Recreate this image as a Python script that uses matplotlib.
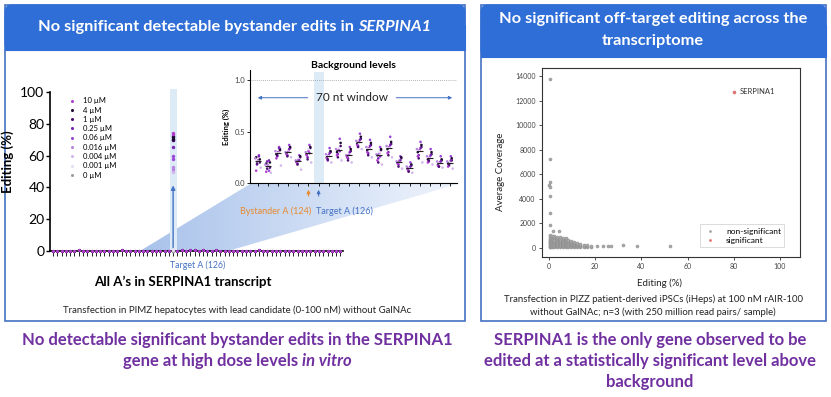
import numpy as np
import matplotlib
matplotlib.use("Agg")
import matplotlib.pyplot as plt
from matplotlib.patches import Rectangle, FancyBboxPatch, Polygon
from matplotlib.lines import Line2D

plt.rcParams['font.family'] = ['Lato', 'DejaVu Sans']

# ---------------- data ----------------
doses = ['10 µM', '4 µM', '1 µM', '0.25 µM', '0.06 µM', '0.016 µM', '0.004 µM', '0.001 µM', '0 µM']
dose_colors = ['#B23FD0', '#1E0A2E', '#4A0E6E', '#7B22B5', '#9B45D6',
               '#B784DE', '#D2B6EC', '#E6DCF3', '#9C9C9C']

# all A positions in the SERPINA1 transcript (main panel)
a_index = list(range(1, 69))
main_bg = [0.21, 0.18, 0.30, 0.27, 0.22, 0.25, 0.33, 0.19, 0.24, 0.28, 0.20, 0.31,
           0.26, 0.23, 0.17, 0.29, 0.35, 0.22, 0.24, 0.30, 0.27, 0.22, 0.17, 0.29,
           0.30, 0.23, 0.30, 0.24, 0.00, 0.27, 0.32, 0.27, 0.40, 0.34, 0.29, 0.35,
           0.22, 0.15, 0.32, 0.25, 0.20, 0.20, 0.26, 0.31, 0.19, 0.23, 0.28, 0.21,
           0.33, 0.25, 0.18, 0.27, 0.22, 0.30, 0.24, 0.19, 0.26, 0.29, 0.21, 0.23,
           0.31, 0.18, 0.25, 0.28, 0.22, 0.20, 0.27, 0.24]
target_pos = 29
target_vals = [[74.5, 73.5], [71.5, 70.5], [70.0, 72.5], [65.5, 69.5], [59.5, 58.0],
               [53.0, 51.5], [50.5, 49.5], [1.0, 0.8], [0.3, 0.2]]

# background levels inset (70 nt window)
inset_pos = [1, 2, 3, 4, 5, 6, 8, 9, 10, 11, 12, 13, 14, 15, 16, 17, 18, 19, 20]
inset_vals = [
    [0.22, 0.25, 0.20, 0.18, 0.27, 0.24, 0.15, 0.21, 0.12, 0.23, 0.19, 0.26],
    [0.17, 0.19, 0.15, 0.21, 0.12, 0.18, 0.10, 0.16, 0.11, 0.20, 0.14, 0.22],
    [0.30, 0.28, 0.33, 0.26, 0.35, 0.31, 0.17, 0.29, 0.24, 0.32, 0.27, 0.34],
    [0.31, 0.29, 0.34, 0.27, 0.37, 0.30, 0.25, 0.32, 0.28, 0.35, 0.26, 0.33],
    [0.23, 0.21, 0.25, 0.19, 0.27, 0.22, 0.13, 0.24, 0.20, 0.26, 0.18, 0.22],
    [0.31, 0.28, 0.34, 0.25, 0.37, 0.30, 0.20, 0.33, 0.27, 0.35, 0.23, 0.29],
    [0.27, 0.25, 0.30, 0.22, 0.34, 0.28, 0.20, 0.26, 0.24, 0.31, 0.23, 0.29],
    [0.32, 0.30, 0.36, 0.28, 0.43, 0.33, 0.22, 0.34, 0.27, 0.39, 0.25, 0.31],
    [0.28, 0.26, 0.31, 0.24, 0.35, 0.27, 0.20, 0.29, 0.25, 0.33, 0.22, 0.30],
    [0.40, 0.38, 0.43, 0.36, 0.48, 0.41, 0.33, 0.39, 0.37, 0.45, 0.35, 0.42],
    [0.34, 0.32, 0.37, 0.29, 0.42, 0.35, 0.25, 0.33, 0.30, 0.39, 0.27, 0.36],
    [0.29, 0.27, 0.32, 0.24, 0.35, 0.28, 0.18, 0.30, 0.22, 0.33, 0.20, 0.26],
    [0.35, 0.33, 0.38, 0.30, 0.45, 0.36, 0.25, 0.34, 0.29, 0.40, 0.27, 0.37],
    [0.22, 0.20, 0.24, 0.18, 0.26, 0.21, 0.14, 0.23, 0.19, 0.25, 0.16, 0.22],
    [0.15, 0.14, 0.17, 0.12, 0.20, 0.16, 0.10, 0.15, 0.13, 0.18, 0.11, 0.16],
    [0.32, 0.30, 0.35, 0.27, 0.40, 0.33, 0.20, 0.31, 0.26, 0.37, 0.24, 0.34],
    [0.25, 0.23, 0.28, 0.21, 0.33, 0.26, 0.18, 0.24, 0.20, 0.30, 0.22, 0.27],
    [0.20, 0.18, 0.22, 0.16, 0.26, 0.21, 0.15, 0.19, 0.17, 0.23, 0.16, 0.21],
    [0.20, 0.19, 0.22, 0.17, 0.26, 0.21, 0.14, 0.20, 0.16, 0.24, 0.18, 0.22],
]
bystander_pos = 6
inset_target_pos = 7

# transcriptome-wide off-target scatter
ot_row_edit = [0.3, 1.2, 2.4, 3.6, 4.8, 6.0, 7.2, 8.4, 9.6, 10.8, 12.0, 13.5, 15.0, 16.5, 18.0]
ot_row_cov = [
    [60, 120, 180, 240, 310, 380, 450, 520, 600, 680, 760, 850, 940, 1030],
    [80, 150, 230, 300, 380, 460, 540, 620, 700, 790, 880, 980],
    [70, 140, 210, 290, 370, 450, 530, 610, 690, 780, 870, 960],
    [90, 160, 240, 320, 400, 480, 560, 640, 720, 810, 900],
    [60, 130, 210, 290, 370, 450, 530, 610, 690, 770, 860],
    [80, 150, 230, 310, 390, 470, 550, 630, 710, 800],
    [70, 140, 220, 300, 380, 460, 540, 620, 700, 780],
    [90, 160, 240, 320, 400, 480, 560, 650],
    [60, 130, 210, 290, 370, 450, 530],
    [80, 150, 230, 310, 390, 460],
    [70, 140, 220, 300, 370],
    [90, 160, 230, 300],
    [80, 150, 220],
    [90, 160, 230],
    [100, 170],
]
ot_out_edit = [0.4, 0.3, 0.3, 0.2, 0.4, 0.3, 0.3, 0.4, 1.6, 4.5, 21.0, 23.4, 25.5, 27.0, 32.0, 38.0, 52.4]
ot_out_cov = [13750, 7240, 5350, 5130, 5000, 4230, 2820, 1870, 1380, 1360, 150, 160, 180, 200, 230, 150, 150]
sig_edit = [80.0]
sig_cov = [12700]
sig_name = 'SERPINA1'

# ---------------- layout helpers ----------------
W, H = 831, 397
fig = plt.figure(figsize=(W / 100, H / 100), dpi=100)


def ax_px(x0, y0, x1, y1, **kw):
    return fig.add_axes([x0 / W, 1 - y1 / H, (x1 - x0) / W, (y1 - y0) / H], **kw)


bg = fig.add_axes([0, 0, 1, 1], zorder=0)
bg.set_xlim(0, W)
bg.set_ylim(H, 0)
bg.axis('off')

HEAD = '#2F6ED6'
BORDER = '#4472C4'
PURPLE = '#7030A0'
BLUE_TXT = '#4472C4'
ORANGE = '#E88A2E'

# panel boxes
for (x0, x1, hb) in [(5, 465, 50), (481, 826, 57)]:
    bg.add_patch(Rectangle((x0, 5), x1 - x0, 316, fill=False, ec=BORDER, lw=1.2, zorder=1))
    bg.add_patch(FancyBboxPatch((x0, 5), x1 - x0, hb - 5,
                                boxstyle='round,pad=0,rounding_size=7',
                                fc=HEAD, ec=HEAD, lw=0.8, zorder=2))
    bg.add_patch(Rectangle((x0, 25), x1 - x0, hb - 25, fc=HEAD, ec=HEAD, lw=0.8, zorder=2))

renderer = fig.canvas.get_renderer()


def mixed_line(ax, xc, y, parts, **kw):
    texts = []
    for s, st in parts:
        texts.append(ax.text(0, y, s, style=st, ha='left', va='center', **kw))
    t1 = ax.text(0, 0, 'a a', **kw)
    t2 = ax.text(0, 0, 'aa', **kw)
    sp = t1.get_window_extent(renderer).width - t2.get_window_extent(renderer).width
    t1.remove()
    t2.remove()
    widths = [t.get_window_extent(renderer).width for t in texts]
    total = sum(widths) + sp * (len(texts) - 1)
    x = xc - total / 2
    for t, w in zip(texts, widths):
        t.set_x(x)
        x += w + sp


# header titles
mixed_line(bg, 235, 27, [('No significant detectable bystander edits in', 'normal'),
                         ('SERPINA1', 'italic')],
           color='white', fontsize=11.8, fontweight='bold', zorder=3)
bg.text(653, 19, 'No significant off-target editing across the', color='white',
        fontsize=11.8, fontweight='bold', ha='center', va='center', zorder=3)
bg.text(653, 41, 'transcriptome', color='white', fontsize=11.8, fontweight='bold',
        ha='center', va='center', zorder=3)

# captions
bg.text(237, 310, 'Transfection in PIMZ hepatocytes with lead candidate (0-100 nM) without GalNAc',
        fontsize=6.9, ha='center', va='center', color='#222')
bg.text(653, 299, 'Transfection in PIZZ patient-derived iPSCs (iHeps) at 100 nM rAIR-100',
        fontsize=6.9, ha='center', va='center', color='#222')
bg.text(653, 312, 'without GalNAc; n=3 (with 250 million read pairs/ sample)',
        fontsize=6.9, ha='center', va='center', color='#222')

# bottom purple conclusions
FS_P = 12
bg.text(237, 340, 'No detectable significant bystander edits in the SERPINA1',
        fontsize=FS_P, fontweight='bold', color=PURPLE, ha='center', va='center')
mixed_line(bg, 237, 361, [('gene at high dose levels', 'normal'), ('in vitro', 'italic')],
           fontsize=FS_P, fontweight='bold', color=PURPLE)
for yy, s in [(340, 'SERPINA1 is the only gene observed to be'),
              (361, 'edited at a statistically significant level above'),
              (382, 'background')]:
    bg.text(650, yy, s, fontsize=FS_P, fontweight='bold', color=PURPLE, ha='center', va='center')

# zoom shading (gradient wedge from the main axis to the inset)
poly = Polygon([(140, 251), (250, 184), (458, 184), (228, 251)], closed=True,
               fc='none', ec='none')
bg.add_patch(poly)
c0 = np.array([0.66, 0.76, 0.92])
c1 = np.array([0.94, 0.96, 0.99])
t = np.linspace(0, 1, 200)[None, :, None]
grad = np.repeat(c0 + (c1 - c0) * t, 2, axis=0)
im = bg.imshow(grad, extent=(140, 458, 251, 184), aspect='auto', zorder=1.5,
               interpolation='bilinear')
im.set_clip_path(poly)
bg.set_xlim(0, W)
bg.set_ylim(H, 0)

# ---------------- main panel ----------------
ax = ax_px(50, 92, 343, 251, zorder=1)
ax.patch.set_alpha(0)
ax.set_xlim(0.3, 68.6)
ax.set_ylim(0, 100)
for sp in ['top', 'right']:
    ax.spines[sp].set_visible(False)
ax.spines['left'].set_linewidth(1.2)
ax.spines['bottom'].set_linewidth(1.2)
ax.set_yticks([0, 20, 40, 60, 80, 100])
ax.tick_params(axis='y', labelsize=10, length=3, width=1, pad=1)
ax.set_xticks(a_index)
ax.set_xticklabels([])
ax.tick_params(axis='x', length=3.5, width=0.7, color='#222')

ax.axvspan(target_pos - 0.8, target_pos + 0.8, ymin=0, ymax=1.02, color='#DDEBF7',
           zorder=0, clip_on=False, lw=0)
ax.annotate('', xy=(target_pos, 43), xytext=(target_pos, -3),
            arrowprops=dict(arrowstyle='-|>', color=BLUE_TXT, lw=1, mutation_scale=6),
            annotation_clip=False, zorder=2)

bg_x = [p for p in a_index if p != target_pos]
bg_y = [v for p, v in zip(a_index, main_bg) if p != target_pos]
for i in reversed(range(len(doses))):
    ax.scatter(bg_x, bg_y, s=5, color=dose_colors[i], lw=0, clip_on=False, zorder=3)
handles = []
for i in reversed(range(len(doses))):
    ax.scatter([target_pos] * len(target_vals[i]), target_vals[i], s=6,
               color=dose_colors[i], lw=0, clip_on=False, zorder=4)
for i in range(len(doses)):
    handles.append(Line2D([], [], ls='none', marker='o', ms=2.2, mfc=dose_colors[i],
                          mec='none', label=doses[i]))
ax.legend(handles=handles, loc='upper left', bbox_to_anchor=(0.0375, 1.01),
          frameon=False, fontsize=5.5, handlelength=1, handletextpad=1.0,
          labelspacing=0.3, borderpad=0.4)
ax.set_ylabel('Editing (%)', fontsize=9.5, fontweight='bold')
ax.yaxis.set_label_coords(-0.123, 0.56)
ax.text(target_pos - 0.7, -0.09, 'Target A (126)', transform=ax.get_xaxis_transform(),
        fontsize=6.3, color=BLUE_TXT, ha='left', va='center')
ax.text(0.454, -0.195, 'All A’s in SERPINA1 transcript', transform=ax.transAxes,
        fontsize=9.5, fontweight='bold', ha='center', va='center')

# ---------------- inset: background levels ----------------
ins = ax_px(250, 70, 457, 183, zorder=2)
ins.set_facecolor('white')
ins.set_xlim(0.21, 20.7)
ins.set_ylim(0, 1.1)
for sp in ['top', 'right']:
    ins.spines[sp].set_visible(False)
ins.spines['left'].set_linewidth(0.8)
ins.spines['bottom'].set_linewidth(0.8)
ins.set_xticks(list(range(1, 21)))
ins.set_xticklabels([])
ins.tick_params(axis='x', length=2.5, width=0.6)
ins.set_yticks([0, 0.5, 1.0])
ins.set_yticklabels(['0.0', '0.5', '1.0'])
ins.tick_params(axis='y', labelsize=5.5, length=2.5, width=0.6, pad=1, labelcolor='#444')
ins.set_ylabel('Editing (%)', fontsize=5.5, fontweight='bold', labelpad=3)
ins.set_title('Background levels', fontsize=7.5, fontweight='bold', pad=1)
ins.axhline(1.0, color='#999', lw=0.6, ls=(0, (1, 1.5)))
ins.axvspan(inset_target_pos - 0.5, inset_target_pos + 0.5, ymin=0, ymax=0.98,
            color='#DDEBF7', lw=0, zorder=0)

offs = [0, -0.18, 0.18, -0.09, 0.09, -0.27, 0.27, 0, -0.18, 0.18, -0.09, 0.09]
for p, vals in zip(inset_pos, inset_vals):
    xs = [p + offs[j % len(offs)] for j in range(len(vals))]
    cols = [dose_colors[j % 8] for j in range(len(vals))]
    ins.scatter(xs, vals, s=3.5, c=cols, lw=0, zorder=3)
    m = np.mean(vals)
    ins.hlines(m, p - 0.3, p + 0.3, color='#222', lw=0.8, zorder=4)

ins.text(10.3, 0.83, '70 nt window', fontsize=8.5, ha='center', va='center', color='#222')
ins.annotate('', xy=(0.7, 0.83), xytext=(6.2, 0.83),
             arrowprops=dict(arrowstyle='-|>', color=BLUE_TXT, lw=0.7, mutation_scale=5))
ins.annotate('', xy=(20.5, 0.83), xytext=(14.4, 0.83),
             arrowprops=dict(arrowstyle='-|>', color=BLUE_TXT, lw=0.7, mutation_scale=5))
ins.annotate('', xy=(bystander_pos, -0.035), xytext=(bystander_pos, -0.14),
             xycoords=('data', 'axes fraction'), textcoords=('data', 'axes fraction'),
             arrowprops=dict(arrowstyle='-|>', color=ORANGE, lw=0.8, mutation_scale=5),
             annotation_clip=False)
ins.annotate('', xy=(inset_target_pos, -0.035), xytext=(inset_target_pos, -0.14),
             xycoords=('data', 'axes fraction'), textcoords=('data', 'axes fraction'),
             arrowprops=dict(arrowstyle='-|>', color=BLUE_TXT, lw=0.8, mutation_scale=5),
             annotation_clip=False)
ins.text(bystander_pos + 0.25, -0.25, 'Bystander A (124)', transform=ins.get_xaxis_transform(),
         fontsize=6.5, color=ORANGE, ha='right', va='center')
ins.text(inset_target_pos - 0.3, -0.25, 'Target A (126)', transform=ins.get_xaxis_transform(),
         fontsize=6.5, color=BLUE_TXT, ha='left', va='center')

# ---------------- off-target scatter ----------------
sc = ax_px(542, 68, 800, 257, zorder=2)
sc.set_facecolor('white')
sc.set_xlim(-3, 108.7)
sc.set_ylim(-733, 14651)
for sp in sc.spines.values():
    sp.set_linewidth(0.8)
    sp.set_color('#333')
sc.set_xticks([0, 20, 40, 60, 80, 100])
sc.set_yticks(list(range(0, 14001, 2000)))
sc.tick_params(labelsize=5, length=2.5, width=0.6, pad=2, labelcolor='#444', color='#333')

bulk_x = [e for e, covs in zip(ot_row_edit, ot_row_cov) for _ in covs]
bulk_y = [c for covs in ot_row_cov for c in covs]
GRAY = '#A8A8A8'
sc.scatter(bulk_x, bulk_y, s=5, c=GRAY, edgecolors='#8a8a8a', linewidths=0.3, zorder=3)
sc.scatter(ot_out_edit, ot_out_cov, s=5, c=GRAY, edgecolors='#8a8a8a', linewidths=0.3, zorder=3)
sc.scatter(sig_edit, sig_cov, s=5, c='#E57373', edgecolors='#d06060', linewidths=0.3, zorder=4)
sc.annotate(sig_name, xy=(sig_edit[0], sig_cov[0]), xytext=(4, 0), textcoords='offset points',
            fontsize=5.5, va='center', ha='left', color='#333')
sc.set_xlabel('Editing (%)', fontsize=7, color='#222')
sc.xaxis.set_label_coords(0.457, -0.111)
sc.set_ylabel('Average Coverage', fontsize=7, color='#222')
sc.yaxis.set_label_coords(-0.143, 0.45)
lh = [Line2D([], [], ls='none', marker='o', ms=2, mfc=GRAY, mec='none', label='non-significant'),
      Line2D([], [], ls='none', marker='o', ms=2, mfc='#E57373', mec='none', label='significant')]
leg = sc.legend(handles=lh, loc='lower right', bbox_to_anchor=(0.955, 0.03), fontsize=6,
                frameon=True, fancybox=False, edgecolor='#cccccc', handlelength=1.5,
                handletextpad=1.2, borderpad=0.4, labelspacing=0.25)
leg.get_frame().set_linewidth(0.6)

fig.savefig('out.png', dpi=100)
